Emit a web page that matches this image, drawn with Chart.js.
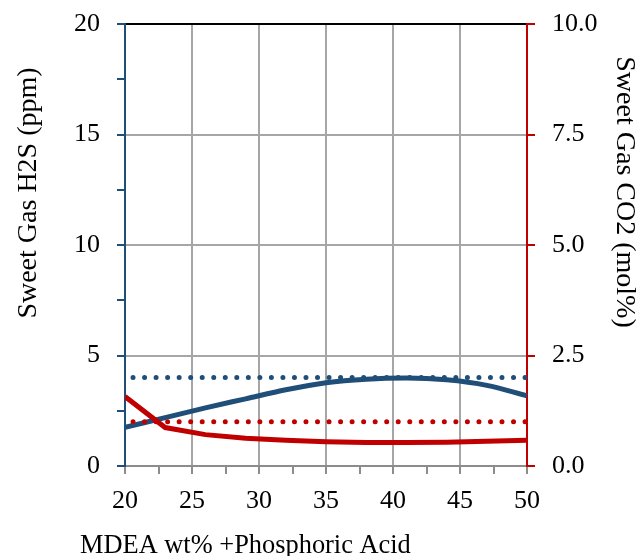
<!DOCTYPE html>
<html>
<head>
<meta charset="utf-8">
<script src="https://cdn.jsdelivr.net/npm/chart.js@4"></script>
<style>
  html, body { margin: 0; padding: 0; background: #fff; }
  #wrap { width: 641px; height: 556px; }
</style>
</head>
<body>
<div id="wrap"><canvas id="myChart"></canvas></div>
<script>
// MDEA wt% values where each curve was sampled
const mdeaX = [20, 23, 26, 29, 32, 35, 38, 41, 44, 47, 50];
const h2s = [1.75, 2.19, 2.63, 3.04, 3.45, 3.77, 3.93, 3.98, 3.90, 3.65, 3.18];
const co2 = [1.57, 0.87, 0.71, 0.63, 0.58, 0.55, 0.53, 0.53, 0.54, 0.56, 0.58];
// spec limits (dotted)
const limitX = [20, 50];
const h2sLimit = [4, 4];
const co2Limit = [1.0, 1.0];

const blue = '#1F4E79';
const red = '#C00000';
const gridGrey = '#a6a6a6';
const font = 'Liberation Serif';

function pts(xs, ys) {
  return xs.map((x, i) => ({ x: x, y: ys[i] }));
}

const titles = {
  id: 'titles',
  afterDraw(chart) {
    const c = chart.ctx;
    c.save();
    c.fillStyle = '#000';
    c.font = '28px "' + font + '"';
    c.textAlign = 'center';
    c.textBaseline = 'middle';
    c.save();
    c.translate(29, 193);
    c.rotate(-Math.PI / 2);
    c.fillText('Sweet Gas H2S (ppm)', 0, 0);
    c.restore();
    c.save();
    c.translate(624, 192);
    c.rotate(Math.PI / 2);
    c.fillText('Sweet Gas CO2 (mol%)', 0, 0);
    c.restore();
    c.font = '26.4px "' + font + '"';
    c.textAlign = 'left';
    c.textBaseline = 'alphabetic';
    c.fillText('MDEA wt% +Phosphoric Acid', 80, 553);
    c.restore();
  }
};

const dots = [0, 11.53];

function noPad(s) {
  s.paddingTop = 0;
  s.paddingBottom = 0;
}

new Chart(document.getElementById('myChart'), {
  type: 'line',
  data: {
    datasets: [{
      data: pts(mdeaX, h2s),
      borderColor: blue,
      borderWidth: 5,
      pointRadius: 0,
      cubicInterpolationMode: 'monotone',
      yAxisID: 'y',
      order: 4
    }, {
      data: pts(mdeaX, co2),
      borderColor: red,
      borderWidth: 5,
      pointRadius: 0,
      tension: 0,
      yAxisID: 'y2',
      order: 3
    }, {
      data: pts(limitX, h2sLimit),
      borderColor: blue,
      borderWidth: 5,
      borderDash: dots,
      borderDashOffset: 3.5,
      borderCapStyle: 'round',
      pointRadius: 0,
      yAxisID: 'y',
      order: 2
    }, {
      data: pts(limitX, co2Limit),
      borderColor: red,
      borderWidth: 5,
      borderDash: dots,
      borderDashOffset: 3.5,
      borderCapStyle: 'round',
      pointRadius: 0,
      yAxisID: 'y2',
      order: 1
    }]
  },
  options: {
    responsive: true,
    maintainAspectRatio: false,
    animation: false,
    layout: {
      padding: { top: 24, left: 0, right: 0, bottom: 0 }
    },
    plugins: {
      legend: { display: false },
      tooltip: { enabled: false }
    },
    scales: {
      x: {
        type: 'linear',
        min: 20,
        max: 50,
        afterFit: (s) => { s.height = 90; },
        ticks: {
          stepSize: 2.5,
          padding: 12,
          color: '#000',
          font: { family: font, size: 26 },
          callback: (v) => (v % 5 === 0 ? v : '')
        },
        grid: {
          lineWidth: 2,
          tickLength: 8,
          tickColor: '#8c8c8c',
          color: (ctx) => {
            const v = ctx.tick.value;
            return (v % 5 === 0 && v > 20 && v < 50) ? gridGrey : 'rgba(0,0,0,0)';
          }
        },
        border: { color: '#8c8c8c', width: 2 }
      },
      y: {
        position: 'left',
        min: 0,
        max: 20,
        afterFit: (s) => { s.width = 125; noPad(s); },
        ticks: {
          stepSize: 2.5,
          padding: 17,
          color: '#000',
          font: { family: font, size: 26 },
          callback: (v) => (v % 5 === 0 ? v : '')
        },
        grid: {
          lineWidth: 2,
          tickLength: 8,
          tickColor: blue,
          color: (ctx) => {
            const v = ctx.tick.value;
            if (v === 20) return '#000';
            return (v % 5 === 0 && v > 0) ? gridGrey : 'rgba(0,0,0,0)';
          }
        },
        border: { color: blue, width: 2 }
      },
      y2: {
        position: 'right',
        min: 0,
        max: 10,
        afterFit: (s) => { s.width = 114; noPad(s); },
        ticks: {
          stepSize: 2.5,
          padding: 17,
          color: '#000',
          font: { family: font, size: 26 },
          callback: (v) => v.toFixed(1)
        },
        grid: {
          drawOnChartArea: false,
          lineWidth: 2,
          tickLength: 8,
          tickColor: red
        },
        border: { color: red, width: 2 }
      }
    }
  },
  plugins: [titles]
});
</script>
</body>
</html>
